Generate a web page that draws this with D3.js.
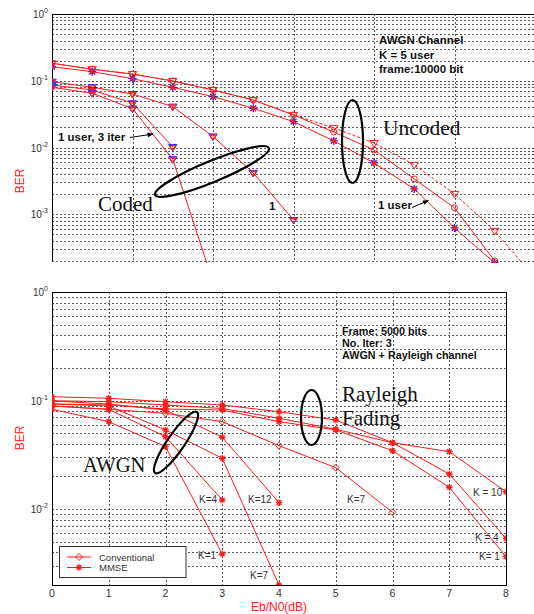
<!DOCTYPE html>
<html>
<head>
<meta charset="utf-8">
<script src="https://cdn.jsdelivr.net/npm/d3@7"></script>
<style>
  body { margin: 0; background: #fff; }
  svg { display: block; }
  text { font-family: "Liberation Sans", Arial, sans-serif; }
  .serif { font-family: "Liberation Serif", "Times New Roman", serif; }
</style>
</head>
<body>
<svg id="chart" width="534" height="614"></svg>
<script>
// ---------- Upper panel: K = 5 users, AWGN, 10000-bit frames ----------
const topEbN0 = [0, 0.5, 1, 1.5, 2, 2.5, 3, 3.5, 4, 4.5, 5, 5.5, 6];
const uncodedConvDotted = [0.183, 0.149, 0.126, 0.0993, 0.0728, 0.0516, 0.0308, 0.0197, 0.0117, 0.0055, 0.00202, 0.000564, 0.000112];
const uncodedConvSolid  = [0.183, 0.149, 0.126, 0.0993, 0.0728, 0.0516, 0.0308, 0.0171, 0.0092, 0.00339, 0.00125, 0.0002];
const uncodedOneUser    = [0.1626, 0.1368, 0.1075, 0.0799, 0.0578, 0.0388, 0.0244, 0.01256, 0.00588, 0.0024, 0.000625, 0.000187];
const codedA            = [0.0969, 0.0799, 0.0634, 0.041, 0.01466, 0.00417, 0.000824];
const codedB            = [0.0865, 0.0728, 0.0461, 0.0102];
const codedOneUser3Iter = [0.0799, 0.065, 0.0382, 0.00668, 0.0000973];
const topYExponents = [0, -1, -2, -3];

// ---------- Lower panel: AWGN vs Rayleigh fading, 5000-bit frames ----------
const botEbN0 = [0, 1, 2, 3, 4, 5, 6, 7, 8];
const rayleighK10 = [0.1085, 0.1049, 0.0976, 0.0910, 0.0789, 0.0662, 0.0409, 0.0338, 0.01447];
const rayleighK4  = [0.0997, 0.0976, 0.0910, 0.0845, 0.0687, 0.0544, 0.0409, 0.02106, 0.00538];
const rayleighK1  = [0.0930, 0.0910, 0.0836, 0.0818, 0.0639, 0.0536, 0.0345, 0.0159, 0.00365];
const rayleighConvK7 = [0.0891, 0.0831, 0.0763, 0.0639, 0.0384, 0.0241, 0.00935];
const awgnK12 = [0.0991, 0.0930, 0.0818, 0.0459, 0.01146];
const awgnK7  = [0.0930, 0.0891, 0.0536, 0.0294, 0.0020];
const awgnK4  = [0.0891, 0.0831, 0.0465, 0.01213];
const awgnK1  = [0.0831, 0.0639, 0.0376, 0.00386];
const botYExponents = [0, -1, -2];
const botXLabels = ["0", "1", "2", "3", "4", "5", "6", "7", "8"];

const RED = "#ff1a1a";
const BLUE = "#2020ff";
const svg = d3.select("#chart");

const defs = svg.append("defs");
defs.append("marker").attr("id", "arrow").attr("viewBox", "0 0 10 10")
  .attr("refX", 9).attr("refY", 5).attr("markerWidth", 7).attr("markerHeight", 6)
  .attr("orient", "auto")
  .append("path").attr("d", "M0,1 L10,5 L0,9 Z").attr("fill", "#000");

// ---------- scales ----------
const xT = d3.scaleLinear().domain([0, 6]).range([52, 535]);
const yT = d3.scaleLog().domain([2e-4, 1]).range([261, 14]);
const xB = d3.scaleLinear().domain([0, 8]).range([52, 506]);
const yB = d3.scaleLog().domain([2e-3, 1]).range([585, 292]);

defs.append("clipPath").attr("id", "clipT").append("rect")
  .attr("x", 52).attr("y", 14).attr("width", 483).attr("height", 249);
defs.append("clipPath").attr("id", "clipB").append("rect")
  .attr("x", 52).attr("y", 292).attr("width", 454).attr("height", 293);

const px = v => Math.round(v) + 0.5;

function grid(x, y, xVals, xa, xb, ya, yb) {
  const g = svg.append("g").attr("stroke", "#222").attr("stroke-width", 1)
    .attr("stroke-dasharray", "2,2").attr("opacity", 0.75);
  y.ticks().forEach(t => {
    const yy = px(y(t));
    g.append("line").attr("x1", xa).attr("x2", xb).attr("y1", yy).attr("y2", yy);
  });
  xVals.forEach(t => {
    const xx = px(x(t));
    g.append("line").attr("x1", xx).attr("x2", xx).attr("y1", ya).attr("y2", yb);
  });
}

function yLabels(y, exps, xr) {
  exps.forEach(e => {
    const t = svg.append("text").attr("x", xr).attr("y", y(Math.pow(10, e)) + 4)
      .attr("text-anchor", "end").attr("font-size", 10).attr("fill", "#333");
    t.append("tspan").text("10");
    t.append("tspan").attr("dy", -5).attr("font-size", 7).text(String(e).replace("-", "-"));
  });
}

// ---------- marker shapes ----------
function triDown(g, cx, cy, s, color) {
  g.append("path")
    .attr("d", `M${cx - s},${cy - s * 0.6}L${cx + s},${cy - s * 0.6}L${cx},${cy + s * 0.95}Z`)
    .attr("fill", "none").attr("stroke", color).attr("stroke-width", 1);
}
function circ(g, cx, cy, r, color) {
  g.append("circle").attr("cx", cx).attr("cy", cy).attr("r", r)
    .attr("fill", "none").attr("stroke", color).attr("stroke-width", 1);
}
function asterisk(g, cx, cy, s, color, w) {
  const d = s * 0.72;
  g.append("path")
    .attr("d", `M${cx - s},${cy}H${cx + s}M${cx},${cy - s}V${cy + s}` +
               `M${cx - d},${cy - d}L${cx + d},${cy + d}M${cx - d},${cy + d}L${cx + d},${cy - d}`)
    .attr("stroke", color).attr("stroke-width", w || 1).attr("fill", "none");
}
function cross(g, cx, cy, s, color) {
  g.append("path")
    .attr("d", `M${cx - s},${cy - s}L${cx + s},${cy + s}M${cx - s},${cy + s}L${cx + s},${cy - s}`)
    .attr("stroke", color).attr("stroke-width", 1.2);
}
function diamond(g, cx, cy, s, color) {
  g.append("path").attr("d", `M${cx},${cy - s}L${cx + s},${cy}L${cx},${cy + s}L${cx - s},${cy}Z`)
    .attr("fill", "none").attr("stroke", color).attr("stroke-width", 1);
}

function series(clip, x, y, xs, vals, opts) {
  const g = svg.append("g").attr("clip-path", `url(#${clip})`);
  const line = d3.line().x((d, i) => x(xs[i])).y(d => y(d));
  g.append("path").datum(vals).attr("d", line).attr("fill", "none")
    .attr("stroke", RED).attr("stroke-width", 1)
    .attr("stroke-dasharray", opts.dash || null);
  vals.forEach((v, i) => opts.mark(g, x(xs[i]), y(v)));
}

// ======================= upper panel =======================
grid(xT, yT, [1, 2, 3, 4, 5], 52, 534, 14, 261);
svg.append("line").attr("x1", 52.5).attr("x2", 52.5).attr("y1", 14).attr("y2", 261.5)
  .attr("stroke", "#000").attr("stroke-width", 1);
svg.append("line").attr("x1", 52).attr("x2", 534).attr("y1", 14.5).attr("y2", 14.5)
  .attr("stroke", "#000").attr("stroke-width", 1);
yLabels(yT, topYExponents, 48);

svg.append("text").attr("transform", "translate(24,181) rotate(-90)")
  .attr("text-anchor", "middle").attr("font-size", 12).attr("fill", RED).text("BER");

const codedMark = (g, cx, cy) => { triDown(g, cx, cy, 4.2, BLUE); triDown(g, cx, cy + 0.6, 3.4, RED); circ(g, cx, cy, 2.3, RED); };
const starMark = (g, cx, cy) => { asterisk(g, cx, cy, 4, BLUE, 1.3); cross(g, cx, cy, 2.5, RED); circ(g, cx, cy, 1.6, RED); };

series("clipT", xT, yT, topEbN0, uncodedConvDotted, { dash: "3,2", mark: (g, cx, cy) => triDown(g, cx, cy, 4.2, RED) });
series("clipT", xT, yT, topEbN0, uncodedConvSolid, { mark: (g, cx, cy) => circ(g, cx, cy, 3, RED) });
series("clipT", xT, yT, topEbN0, uncodedOneUser, { mark: starMark });
series("clipT", xT, yT, topEbN0, codedA, { mark: codedMark });
series("clipT", xT, yT, topEbN0, codedB, { mark: codedMark });
series("clipT", xT, yT, topEbN0, codedOneUser3Iter, { mark: codedMark });

// annotations
const info = svg.append("g").attr("font-size", 11.5).attr("font-weight", "bold").attr("fill", "#111");
info.append("text").attr("x", 379).attr("y", 44).text("AWGN Channel");
info.append("text").attr("x", 379).attr("y", 58.5).text("K = 5 user");
info.append("text").attr("x", 379).attr("y", 72.5).text("frame:10000 bit");
info.append("text").attr("x", 58).attr("y", 141).text("1 user, 3 iter");
info.append("text").attr("x", 269).attr("y", 210).text("1");
info.append("text").attr("x", 378).attr("y", 209).text("1 user");

svg.append("line").attr("x1", 130).attr("y1", 137.5).attr("x2", 153).attr("y2", 134)
  .attr("stroke", "#000").attr("stroke-width", 1).attr("marker-end", "url(#arrow)");
svg.append("line").attr("x1", 412).attr("y1", 207.5).attr("x2", 428.5).attr("y2", 200.5)
  .attr("stroke", "#000").attr("stroke-width", 1).attr("marker-end", "url(#arrow)");

svg.append("text").attr("class", "serif").attr("x", 383).attr("y", 134.5)
  .attr("font-size", 21.5).attr("fill", "#111").text("Uncoded");
svg.append("text").attr("class", "serif").attr("x", 98).attr("y", 210.5)
  .attr("font-size", 21).attr("fill", "#111").text("Coded");

svg.append("ellipse").attr("cx", 352.5).attr("cy", 141.5).attr("rx", 10.5).attr("ry", 41.5)
  .attr("fill", "none").attr("stroke", "#000").attr("stroke-width", 2.2);
svg.append("ellipse").attr("transform", "translate(212,171.5) rotate(-22.4)")
  .attr("rx", 61.5).attr("ry", 10.5)
  .attr("fill", "none").attr("stroke", "#000").attr("stroke-width", 2.2);

// ======================= lower panel =======================
grid(xB, yB, [1, 2, 3, 4, 5, 6, 7], 52, 506, 292, 585);
svg.append("rect").attr("x", 52.5).attr("y", 292.5).attr("width", 454).attr("height", 293)
  .attr("fill", "none").attr("stroke", "#000").attr("stroke-width", 1);
yLabels(yB, botYExponents, 48);

svg.append("g").selectAll("text").data(botXLabels).join("text")
  .attr("x", (d, i) => xB(botEbN0[i])).attr("y", 597)
  .attr("text-anchor", "middle").attr("font-size", 10.5).attr("fill", "#333").text(d => d);

svg.append("text").attr("transform", "translate(24,438) rotate(-90)")
  .attr("text-anchor", "middle").attr("font-size", 12).attr("fill", RED).text("BER");
svg.append("text").attr("x", 279).attr("y", 611).attr("text-anchor", "middle")
  .attr("font-size", 12).attr("fill", RED).text("Eb/N0(dB)");

const mmse = (g, cx, cy) => asterisk(g, cx, cy, 3.3, RED, 1.3);
const conv = (g, cx, cy) => diamond(g, cx, cy, 3.5, RED);

series("clipB", xB, yB, botEbN0, rayleighK10, { mark: mmse });
series("clipB", xB, yB, botEbN0, rayleighK4, { mark: mmse });
series("clipB", xB, yB, botEbN0, rayleighK1, { mark: mmse });
series("clipB", xB, yB, botEbN0, rayleighConvK7, { mark: conv });
series("clipB", xB, yB, botEbN0, awgnK12, { mark: mmse });
series("clipB", xB, yB, botEbN0, awgnK7, { mark: mmse });
series("clipB", xB, yB, botEbN0, awgnK4, { mark: mmse });
series("clipB", xB, yB, botEbN0, awgnK1, { mark: mmse });

const info2 = svg.append("g").attr("font-size", 10.8).attr("font-weight", "bold").attr("fill", "#111");
info2.append("text").attr("x", 342).attr("y", 334.5).text("Frame: 5000 bits");
info2.append("text").attr("x", 342).attr("y", 346.5).text("No. Iter: 3");
info2.append("text").attr("x", 342).attr("y", 359).text("AWGN + Rayleigh channel");

svg.append("text").attr("class", "serif").attr("x", 342).attr("y", 400.5)
  .attr("font-size", 21).attr("fill", "#111").text("Rayleigh");
svg.append("text").attr("class", "serif").attr("x", 342).attr("y", 425)
  .attr("font-size", 21).attr("fill", "#111").text("Fading");
svg.append("text").attr("class", "serif").attr("x", 83).attr("y", 472)
  .attr("font-size", 20.6).attr("fill", "#111").text("AWGN");

svg.append("ellipse").attr("cx", 311.5).attr("cy", 417.5).attr("rx", 10.5).attr("ry", 27.5)
  .attr("fill", "none").attr("stroke", "#000").attr("stroke-width", 2.2);
svg.append("ellipse").attr("transform", "translate(176,442.5) rotate(-55.5)")
  .attr("rx", 37).attr("ry", 8.5)
  .attr("fill", "none").attr("stroke", "#000").attr("stroke-width", 2.2);

const kLab = svg.append("g").attr("font-size", 10).attr("fill", "#333");
[["K=4", 199, 502.5], ["K=1", 198, 559], ["K=12", 248, 503], ["K=7", 250, 579],
 ["K=7", 347, 502.5], ["K = 10", 473, 496], ["K = 4", 475, 540.5], ["K= 1", 479, 560]]
  .forEach(([t, x, y]) => kLab.append("text").attr("x", x).attr("y", y).text(t));

// legend
const leg = svg.append("g");
leg.append("rect").attr("x", 59.5).attr("y", 546.5).attr("width", 126.5).attr("height", 31)
  .attr("fill", "#fff").attr("stroke", "#333").attr("stroke-width", 1);
[["Conventional", 557, conv], ["MMSE", 567.5, mmse]].forEach(([t, yy, mk]) => {
  leg.append("line").attr("x1", 67).attr("x2", 91).attr("y1", yy).attr("y2", yy)
    .attr("stroke", RED).attr("stroke-width", 1);
  mk(leg, 79, yy);
  leg.append("text").attr("x", 99).attr("y", yy + 3.5).attr("font-size", 9.5)
    .attr("fill", "#333").text(t);
});
</script>
</body>
</html>
